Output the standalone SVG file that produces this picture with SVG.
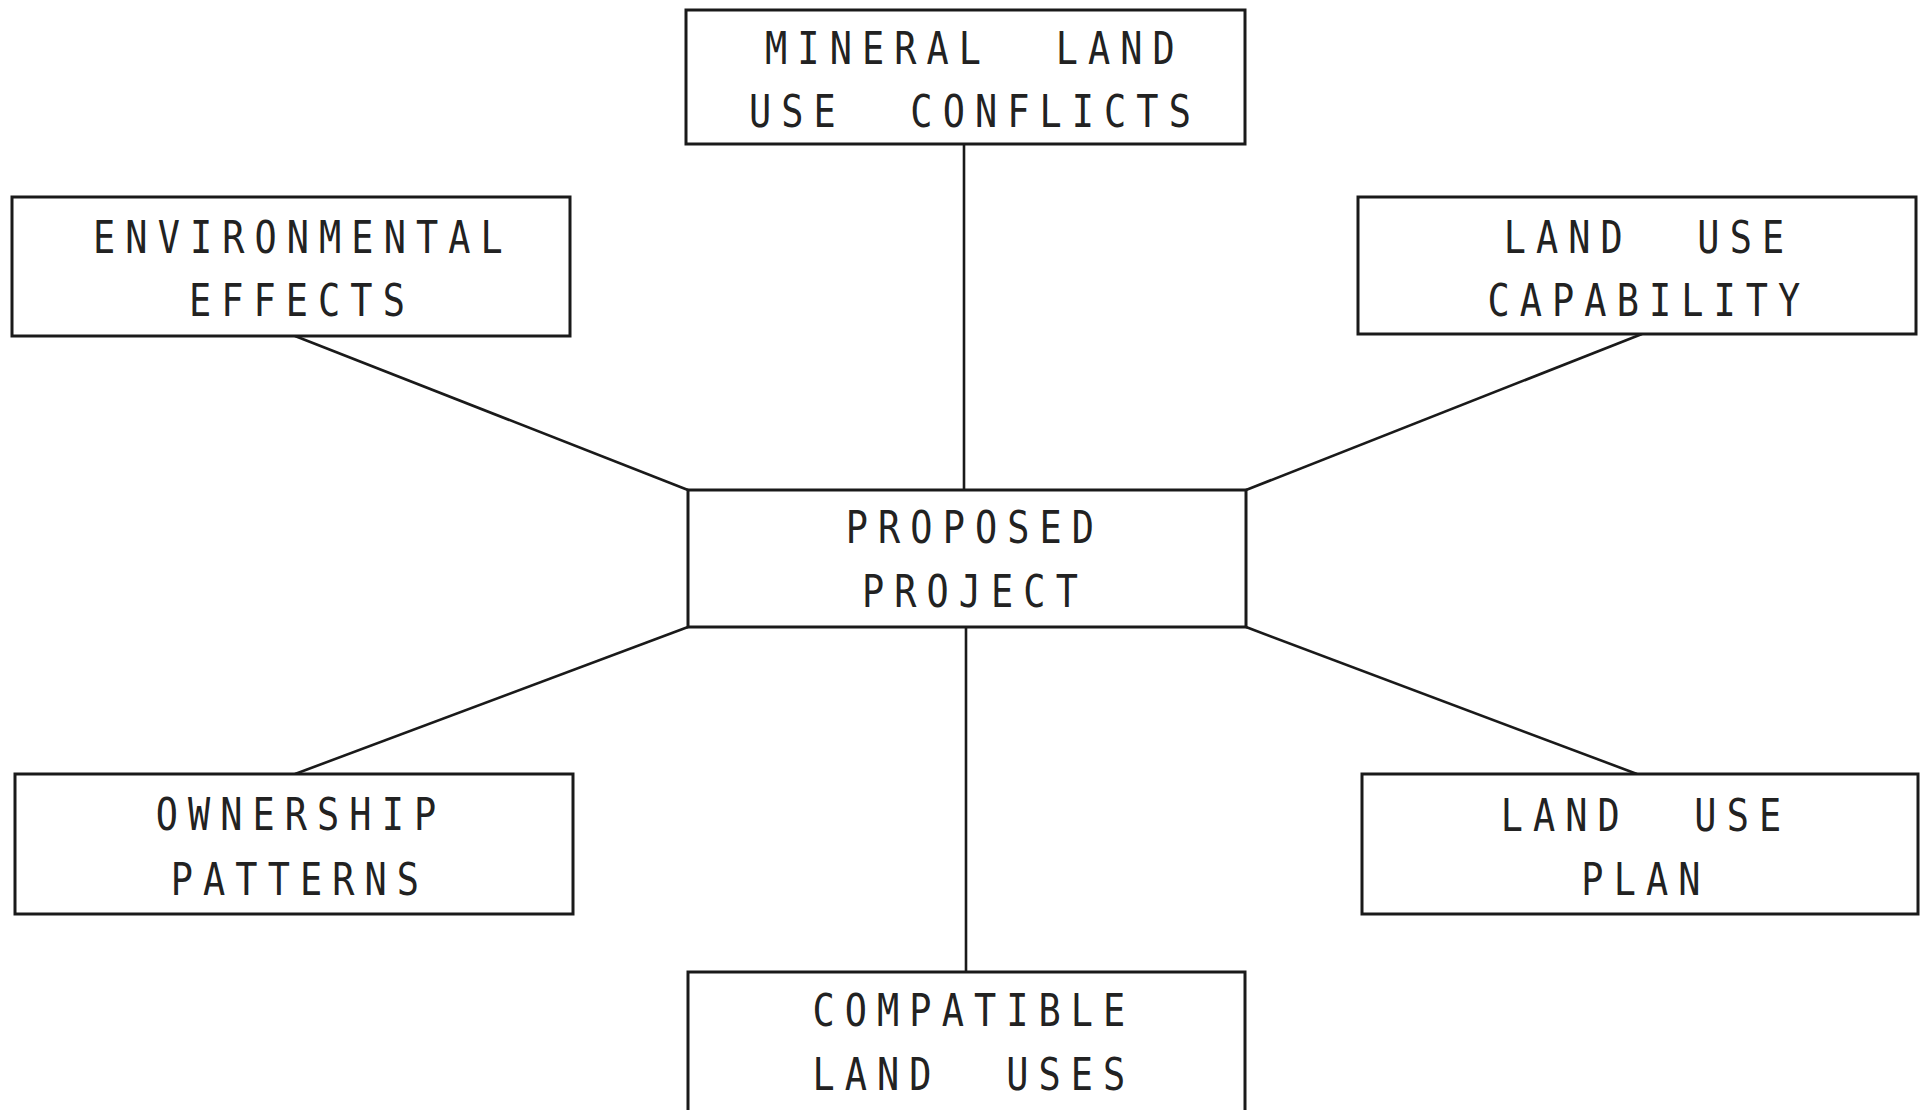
<svg xmlns="http://www.w3.org/2000/svg" width="1927" height="1110" viewBox="0 0 1927 1110">
  <style>
    .box { fill: #ffffff; stroke: #1a1a1a; stroke-width: 3; }
    /* typewriter-style caps: monospace squeezed horizontally, wide tracking */
    .lbl { font-family: "DejaVu Sans Mono", "Liberation Mono", monospace; font-size: 45px; letter-spacing: 12.3px; fill: #222222; text-anchor: middle; white-space: pre; }
    .link { stroke: #1a1a1a; stroke-width: 2.6; fill: none; }
  </style>
  <rect x="0" y="0" width="1927" height="1110" fill="#ffffff"/>

  <!-- connectors: every box tied to the central project -->
  <g id="connectors">
    <line class="link" x1="964" y1="144" x2="964" y2="490"/>
    <line class="link" x1="295" y1="336" x2="688" y2="490"/>
    <line class="link" x1="1642" y1="334" x2="1246" y2="490"/>
    <line class="link" x1="295" y1="774" x2="688" y2="627"/>
    <line class="link" x1="1637" y1="774" x2="1246" y2="627"/>
    <line class="link" x1="966" y1="627" x2="966" y2="972"/>
  </g>

  <g id="mineral-land-use-conflicts">
    <rect class="box" x="686" y="10" width="559" height="134"/>
    <text class="lbl" x="6" transform="translate(970 64) scale(0.82 1)" xml:space="preserve">MINERAL  LAND</text>
    <text class="lbl" x="6" transform="translate(970 127) scale(0.82 1)" xml:space="preserve">USE  CONFLICTS</text>
  </g>

  <g id="environmental-effects">
    <rect class="box" x="12" y="197" width="558" height="139"/>
    <text class="lbl" x="6" transform="translate(298 253) scale(0.82 1)">ENVIRONMENTAL</text>
    <text class="lbl" x="6" transform="translate(297 316) scale(0.82 1)">EFFECTS</text>
  </g>

  <g id="land-use-capability">
    <rect class="box" x="1358" y="197" width="558" height="137"/>
    <text class="lbl" x="6" transform="translate(1644 253) scale(0.82 1)" xml:space="preserve">LAND  USE</text>
    <text class="lbl" x="6" transform="translate(1644 316) scale(0.82 1)">CAPABILITY</text>
  </g>

  <g id="proposed-project">
    <rect class="box" x="688" y="490" width="558" height="137"/>
    <text class="lbl" x="6" transform="translate(970 543) scale(0.82 1)">PROPOSED</text>
    <text class="lbl" x="6" transform="translate(970 607) scale(0.82 1)">PROJECT</text>
  </g>

  <g id="ownership-patterns">
    <rect class="box" x="15" y="774" width="558" height="140"/>
    <text class="lbl" x="6" transform="translate(296 830) scale(0.82 1)">OWNERSHIP</text>
    <text class="lbl" x="6" transform="translate(295 895) scale(0.82 1)">PATTERNS</text>
  </g>

  <g id="land-use-plan">
    <rect class="box" x="1362" y="774" width="556" height="140"/>
    <text class="lbl" x="6" transform="translate(1641 831) scale(0.82 1)" xml:space="preserve">LAND  USE</text>
    <text class="lbl" x="6" transform="translate(1641 895) scale(0.82 1)">PLAN</text>
  </g>

  <g id="compatible-land-uses">
    <rect class="box" x="688" y="972" width="557" height="150"/>
    <text class="lbl" x="6" transform="translate(969 1026) scale(0.82 1)">COMPATIBLE</text>
    <text class="lbl" x="6" transform="translate(969 1090) scale(0.82 1)" xml:space="preserve">LAND  USES</text>
  </g>
</svg>
